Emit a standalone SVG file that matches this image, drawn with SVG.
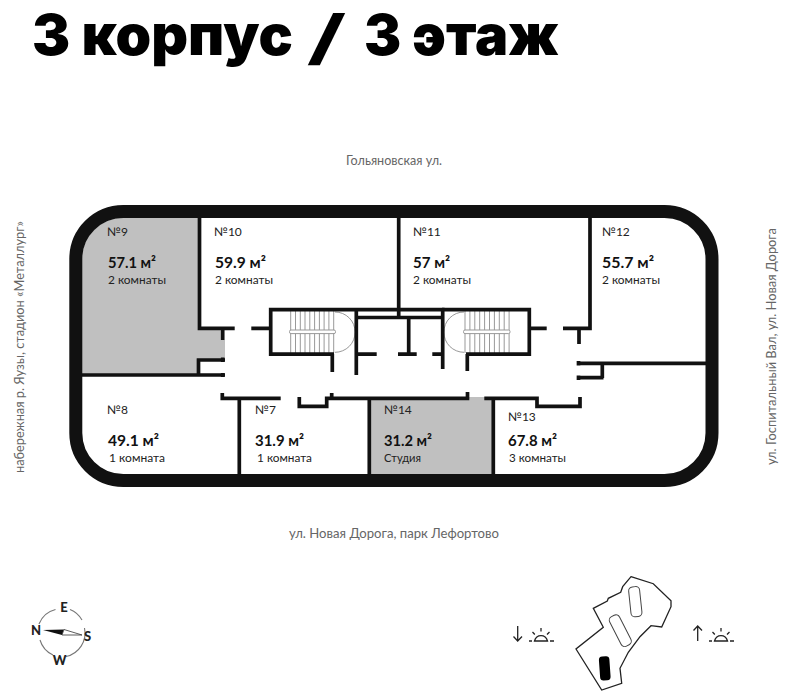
<svg xmlns="http://www.w3.org/2000/svg" width="791" height="700" viewBox="0 0 791 700">
<style>
text{font-family:"Lato","Noto Sans","Liberation Sans",sans-serif;fill:#111}
.title{font-family:"Inter","Roboto","Liberation Sans",sans-serif;font-weight:900;font-size:56.500px;fill:#000}
.slash{font-size:60px;font-weight:600}
.no{font-size:12px;fill:#222}
.area{font-size:15px;font-weight:700}
.sub{font-size:12px;fill:#222}
.street{font-size:12.5px;fill:#666}
.wall{fill:none;stroke:#111;stroke-width:3.7}
.outer{fill:none;stroke:#111;stroke-width:13}
.grey{fill:#c0c0c0}
.thin{fill:none;stroke:#999;stroke-width:1}
.rail{fill:#fff;stroke:#999;stroke-width:1}
.ico{fill:none;stroke:#222;stroke-width:1.300}
.comp{font-size:13px;font-weight:900;fill:#222;text-anchor:middle}
</style>
<text class="title" y="55"><tspan x="32" textLength="261" lengthAdjust="spacingAndGlyphs">3 корпус</tspan> <tspan class="slash" x="306" y="58.500" textLength="41" lengthAdjust="spacingAndGlyphs">/</tspan> <tspan x="364" y="55" textLength="195" lengthAdjust="spacingAndGlyphs">3 этаж</tspan></text>
<text class="street" x="346" y="165" textLength="96" lengthAdjust="spacingAndGlyphs">Гольяновская ул.</text>
<text class="street" x="289" y="538" textLength="210" lengthAdjust="spacingAndGlyphs">ул. Новая Дорога, парк Лефортово</text>
<text class="street" transform="translate(24 473) rotate(-90)" textLength="252" lengthAdjust="spacingAndGlyphs">набережная р. Яузы, стадион «Металлург»</text>
<text class="street" transform="translate(776 465) rotate(-90)" textLength="237" lengthAdjust="spacingAndGlyphs">ул. Госпитальный Вал, ул. Новая Дорога</text>
<g id="plan">
<path class="grey" d="M200 218V330H222V340H225V360H198V375H82V259A41 41 0 0 1 123 218Z"/>
<path class="grey" d="M371 400H469V397H485V400H492V474H371Z"/>
<g id="stair-1">
<path class="thin" d="M290.700 311V353M295.500 311V353M300.300 311V353M305 311V353M309.800 311V353M314.600 311V353M319.400 311V353M324.100 311V353M328.900 311V353M333.700 311V353"/>
<rect class="rail" x="289.500" y="330" width="46" height="3.600" rx="1.500"/>
<path class="thin" d="M335 312A20 20 0 0 1 335 352.300"/>
</g>
<g id="stair-2">
<path class="thin" d="M465 311V353M469.900 311V353M474.800 311V353M479.700 311V353M484.600 311V353M489.500 311V353M494.400 311V353M499.300 311V353M504.200 311V353M509.100 311V353"/>
<rect class="rail" x="463.500" y="330" width="46.500" height="3.600" rx="1.500"/>
<path class="thin" d="M464 312A20 20 0 0 0 464 352.300"/>
</g>
<path class="wall" d="M199.500 218V328.300H234.700M251.300 328.300H270.700M222.700 328V340M196.800 360H225M198.500 358.500V375M82 375H225M222.700 357.500V362M222.700 373V377"/>
<path class="wall" d="M270.700 356V309.700H442.700V369M270 354.200H334M332.300 354V372M356.300 309.700V375M356.300 354.200H376.700M398 354.200H416.700M356 317.500H442M398.700 218V317.500M408.700 317V354M432.300 354.200H443"/>
<path class="wall" d="M442 309.700H529.300V354.200H466M467.300 354V371M529 328.300H546.700M563 328.300H590V218M579 328V344M577 363.300H706M577 377.700H603.500M602.300 363V378M578.500 361V365.500M578.500 375.500V380"/>
<path class="wall" d="M222.300 393V398.300H280.700M239.300 398V474M299.300 397V406.300H326.700V398.300H469.300M331.700 393V398M369.300 398V474M467.500 392V399M484.300 398.300H537V406.300H580V397M493.300 398V474"/>
<path class="outer" d="M123.300 211.500H664.500A47.500 47.500 0 0 1 712 259V433A47.500 47.500 0 0 1 664.500 480.500H123.300A47.500 47.500 0 0 1 75.800 433V259A47.500 47.500 0 0 1 123.300 211.500Z"/>
</g>
<g id="room-9"><text class="no" x="107" y="236">№9</text><text class="area" x="108" y="267.500" textLength="48" lengthAdjust="spacingAndGlyphs">57.1 м²</text><text class="sub" x="108" y="284" textLength="58" lengthAdjust="spacingAndGlyphs">2 комнаты</text></g>
<g id="room-10"><text class="no" x="214" y="236">№10</text><text class="area" x="215" y="267.500" textLength="51" lengthAdjust="spacingAndGlyphs">59.9 м²</text><text class="sub" x="215" y="284" textLength="58" lengthAdjust="spacingAndGlyphs">2 комнаты</text></g>
<g id="room-11"><text class="no" x="413" y="236">№11</text><text class="area" x="413" y="267.500" textLength="37" lengthAdjust="spacingAndGlyphs">57 м²</text><text class="sub" x="413" y="284" textLength="58" lengthAdjust="spacingAndGlyphs">2 комнаты</text></g>
<g id="room-12"><text class="no" x="602" y="236">№12</text><text class="area" x="602" y="267.500" textLength="52" lengthAdjust="spacingAndGlyphs">55.7 м²</text><text class="sub" x="602" y="284" textLength="58" lengthAdjust="spacingAndGlyphs">2 комнаты</text></g>
<g id="room-8"><text class="no" x="107" y="414">№8</text><text class="area" x="108" y="445.500" textLength="51" lengthAdjust="spacingAndGlyphs">49.1 м²</text><text class="sub" x="109" y="462" textLength="56" lengthAdjust="spacingAndGlyphs">1 комната</text></g>
<g id="room-7"><text class="no" x="255" y="414">№7</text><text class="area" x="255" y="445.500" textLength="49" lengthAdjust="spacingAndGlyphs">31.9 м²</text><text class="sub" x="257" y="462" textLength="55" lengthAdjust="spacingAndGlyphs">1 комната</text></g>
<g id="room-14"><text class="no" x="384" y="414">№14</text><text class="area" x="384" y="445.500" textLength="48" lengthAdjust="spacingAndGlyphs">31.2 м²</text><text class="sub" x="384" y="462" textLength="37" lengthAdjust="spacingAndGlyphs">Студия</text></g>
<g id="room-13"><text class="no" x="508" y="421">№13</text><text class="area" x="508" y="445.500" textLength="49" lengthAdjust="spacingAndGlyphs">67.8 м²</text><text class="sub" x="509" y="462" textLength="57" lengthAdjust="spacingAndGlyphs">3 комнаты</text></g>
<g id="compass">
<path d="M55.500 609.500A24 24 0 0 0 39 624M40 640A24 24 0 0 0 53 655M66 656.500A24 24 0 0 0 84.500 628M82 620A24 24 0 0 0 70 609.500" fill="none" stroke="#777" stroke-width="1.100"/>
<text class="comp" x="64" y="611.500">E</text>
<text class="comp" x="87.500" y="640.500">S</text>
<text class="comp" x="59.500" y="664.500">W</text>
<text class="comp" x="36" y="635">N</text>
<path d="M43 630L64 629.500L62 635Z" fill="#111"/>
<path d="M64 629.500L82 635L62 635Z" fill="#fff" stroke="#333" stroke-width=".8"/>
</g>
<g id="sun-down">
<path class="ico" d="M517.700 626V641M513.500 636.500L517.700 641L522 636.500"/>
<path class="ico" d="M534.500 641A6.800 7.500 0 0 1 547.500 641ZM529 641H532M550 641H554M541 628V631.500M532.500 632L534.800 634.500M549.500 632L547 634.500"/>
</g>
<g id="sun-up">
<path class="ico" d="M697.700 641V626M693.500 630.500L697.700 626L702 630.500"/>
<path class="ico" d="M714.500 641A6.800 7.500 0 0 1 727.500 641ZM709 641H712M730 641H734M721 628V631.500M712.500 632L714.800 634.500M729.500 632L727 634.500"/>
</g>
<g id="site-map">
<path d="M631 576.700L653.300 583.700L671 600.700V606.700L661.700 627L651 625.700L640 636.700L628.300 652.300L620 668.300L621.700 683.300L601.700 690L576 649L603.300 627.300L593.300 608.300L607.300 601L608.300 598.300L620.700 592.300L622.700 586.700Z" fill="#fff" stroke="#222" stroke-width="1.300"/>
<rect x="629.800" y="586.700" width="11" height="30" rx="4" transform="rotate(-6 635.300 601.700)" fill="#fff" stroke="#444" stroke-width="1"/>
<rect x="614.800" y="614.200" width="11" height="33" rx="4" transform="rotate(-27 620.300 630.700)" fill="#fff" stroke="#444" stroke-width="1"/>
<rect x="599.500" y="656.300" width="10.500" height="24" rx="3.500" transform="rotate(-4 604.700 668.300)" fill="#000"/>
</g>
</svg>
